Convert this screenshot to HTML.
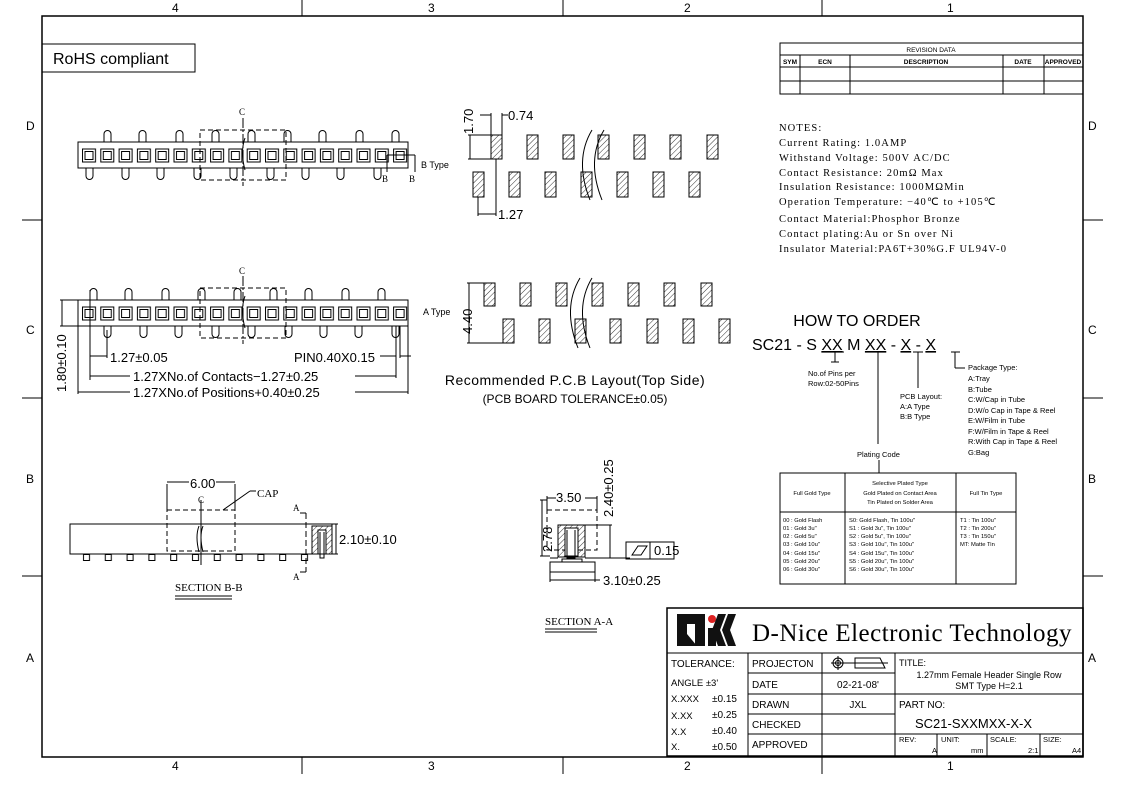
<!DOCTYPE html>
<html><head><meta charset="utf-8"><style>
html,body{margin:0;padding:0;background:#fff;}
svg{display:block;font-family:"Liberation Sans",sans-serif;}
.s{font-family:"Liberation Serif",serif;}
</style></head><body>
<svg width="1123" height="794" viewBox="0 0 1123 794" xmlns="http://www.w3.org/2000/svg">
<defs>
<pattern id="sq" x="81" y="0" width="18.3" height="400" patternUnits="userSpaceOnUse">
<rect x="1.5" y="149" width="13" height="13" fill="none" stroke="#000" stroke-width="1"/>
<rect x="4" y="151.5" width="8" height="8" fill="none" stroke="#000" stroke-width="1"/>
</pattern>
<pattern id="sq2" x="81" y="0" width="18.3" height="400" patternUnits="userSpaceOnUse">
<rect x="1.5" y="307" width="13" height="13" fill="none" stroke="#000" stroke-width="1"/>
<rect x="4" y="309.5" width="8" height="8" fill="none" stroke="#000" stroke-width="1"/>
</pattern>
<pattern id="hat" width="4" height="4" patternUnits="userSpaceOnUse" patternTransform="rotate(45)">
<line x1="0" y1="0" x2="0" y2="4" stroke="#000" stroke-width="0.8"/>
</pattern>
<pattern id="pinb" x="76" y="554" width="21.8" height="20" patternUnits="userSpaceOnUse">
<rect x="7.5" y="0.5" width="6" height="6" fill="none" stroke="#000"/>
</pattern>
</defs>
<g fill="none" stroke="#000" stroke-width="1">
<rect x="42" y="16" width="1041" height="741" stroke-width="1.5"/>
<line x1="302" y1="0" x2="302" y2="16"/><line x1="563" y1="0" x2="563" y2="16"/><line x1="822" y1="0" x2="822" y2="16"/>
<line x1="302" y1="757" x2="302" y2="774"/><line x1="563" y1="757" x2="563" y2="774"/><line x1="822" y1="757" x2="822" y2="774"/>
<line x1="22" y1="220" x2="42" y2="220"/><line x1="22" y1="398" x2="42" y2="398"/><line x1="22" y1="576" x2="42" y2="576"/>
<line x1="1083" y1="220" x2="1103" y2="220"/><line x1="1083" y1="398" x2="1103" y2="398"/><line x1="1083" y1="576" x2="1103" y2="576"/>
<rect x="42" y="44" width="153" height="28"/>
<rect x="780" y="43" width="303" height="51"/>
<line x1="780" y1="55" x2="1083" y2="55"/><line x1="780" y1="67" x2="1083" y2="67"/><line x1="780" y1="81" x2="1083" y2="81"/>
<line x1="800" y1="55" x2="800" y2="94"/><line x1="850" y1="55" x2="850" y2="94"/><line x1="1003" y1="55" x2="1003" y2="94"/><line x1="1044" y1="55" x2="1044" y2="94"/>

<rect x="78" y="142" width="330" height="26"/>
<rect x="78" y="142" width="330" height="26" fill="url(#sq)" stroke="none"/>
<g id="pinsup">
<path d="M104 142v-8a3.5 3.5 0 0 1 7 0v8"/><path d="M139 142v-8a3.5 3.5 0 0 1 7 0v8"/><path d="M176 142v-8a3.5 3.5 0 0 1 7 0v8"/><path d="M212 142v-8a3.5 3.5 0 0 1 7 0v8"/><path d="M248 142v-8a3.5 3.5 0 0 1 7 0v8"/><path d="M284 142v-8a3.5 3.5 0 0 1 7 0v8"/><path d="M319 142v-8a3.5 3.5 0 0 1 7 0v8"/><path d="M356 142v-8a3.5 3.5 0 0 1 7 0v8"/><path d="M392 142v-8a3.5 3.5 0 0 1 7 0v8"/>
</g>
<g id="pinsdn">
<path d="M86 168v8a3.5 3.5 0 0 0 7 0v-8"/><path d="M122 168v8a3.5 3.5 0 0 0 7 0v-8"/><path d="M157 168v8a3.5 3.5 0 0 0 7 0v-8"/><path d="M194 168v8a3.5 3.5 0 0 0 7 0v-8"/><path d="M230 168v8a3.5 3.5 0 0 0 7 0v-8"/><path d="M267 168v8a3.5 3.5 0 0 0 7 0v-8"/><path d="M302 168v8a3.5 3.5 0 0 0 7 0v-8"/><path d="M337 168v8a3.5 3.5 0 0 0 7 0v-8"/><path d="M374 168v8a3.5 3.5 0 0 0 7 0v-8"/>
</g>
<rect x="200" y="130" width="86" height="50" stroke-dasharray="5,3"/>
<line x1="243" y1="118" x2="243" y2="186" stroke-dasharray="10,2,2,2"/>
<path d="M245 138q-5 14 0 32"/>
<line x1="387" y1="155" x2="415" y2="155"/><line x1="387" y1="155" x2="387" y2="172"/><line x1="415" y1="155" x2="415" y2="172"/>

<rect x="78" y="300" width="330" height="26"/>
<rect x="78" y="300" width="330" height="26" fill="url(#sq2)" stroke="none"/>
<use href="#pinsup" transform="translate(-14 158)"/>
<use href="#pinsdn" transform="translate(18 158)"/>
<rect x="200" y="288" width="86" height="50" stroke-dasharray="5,3"/>
<line x1="243" y1="276" x2="243" y2="344" stroke-dasharray="10,2,2,2"/>
<path d="M245 296q-5 14 0 32"/>
<line x1="60" y1="300" x2="78" y2="300"/><line x1="60" y1="326" x2="78" y2="326"/><line x1="62" y1="300" x2="62" y2="326"/>
<line x1="90" y1="290" x2="90" y2="380"/><line x1="107" y1="330" x2="107" y2="358"/><line x1="90" y1="356" x2="107" y2="356"/>
<line x1="396" y1="326" x2="396" y2="378"/><line x1="400" y1="326" x2="400" y2="358"/><line x1="380" y1="356" x2="396" y2="356"/><line x1="400" y1="356" x2="411" y2="356"/>
<line x1="78" y1="326" x2="78" y2="394"/><line x1="408" y1="326" x2="408" y2="394"/>
<line x1="90" y1="376" x2="130" y2="376"/><line x1="355" y1="376" x2="396" y2="376"/>
<line x1="78" y1="392" x2="130" y2="392"/><line x1="355" y1="392" x2="408" y2="392"/>

<g fill="url(#hat)">
<rect x="491" y="135" width="11" height="24"/><rect x="527" y="135" width="11" height="24"/><rect x="563" y="135" width="11" height="24"/><rect x="598" y="135" width="11" height="24"/><rect x="634" y="135" width="11" height="24"/><rect x="670" y="135" width="11" height="24"/><rect x="707" y="135" width="11" height="24"/>
<rect x="473" y="172" width="11" height="25"/><rect x="509" y="172" width="11" height="25"/><rect x="545" y="172" width="11" height="25"/><rect x="581" y="172" width="11" height="25"/><rect x="617" y="172" width="11" height="25"/><rect x="653" y="172" width="11" height="25"/><rect x="689" y="172" width="11" height="25"/>
<rect x="484" y="283" width="11" height="23"/><rect x="520" y="283" width="11" height="23"/><rect x="556" y="283" width="11" height="23"/><rect x="592" y="283" width="11" height="23"/><rect x="628" y="283" width="11" height="23"/><rect x="664" y="283" width="11" height="23"/><rect x="701" y="283" width="11" height="23"/>
<rect x="503" y="319" width="11" height="24"/><rect x="539" y="319" width="11" height="24"/><rect x="575" y="319" width="11" height="24"/><rect x="610" y="319" width="11" height="24"/><rect x="647" y="319" width="11" height="24"/><rect x="683" y="319" width="11" height="24"/><rect x="719" y="319" width="11" height="24"/>
</g>
<path d="M592 130q-18 30 -2 70M604 130q-18 30 -2 70"/>
<path d="M602 278q-18 30 -2 70M590 278q-18 30 -2 70" transform="translate(-10 0)"/>
<line x1="468" y1="135" x2="491" y2="135"/><line x1="468" y1="159" x2="491" y2="159"/><line x1="470" y1="135" x2="470" y2="159"/>
<line x1="491" y1="113" x2="491" y2="135"/><line x1="502" y1="113" x2="502" y2="135"/><line x1="480" y1="115" x2="491" y2="115"/><line x1="502" y1="115" x2="508" y2="115"/>
<line x1="478" y1="197" x2="478" y2="216"/><line x1="496" y1="159" x2="496" y2="216"/><line x1="478" y1="214" x2="496" y2="214"/>
<line x1="467" y1="283" x2="484" y2="283"/><line x1="467" y1="343" x2="503" y2="343"/><line x1="469" y1="283" x2="469" y2="343"/>

<rect x="70" y="524" width="262" height="30"/>
<rect x="76" y="554" width="240" height="8" fill="url(#pinb)" stroke="none"/>
<rect x="167" y="510" width="68" height="41" stroke-dasharray="5,3"/>
<line x1="201" y1="500" x2="201" y2="565"/>
<path d="M199 526q-4 10 0 26M203 526q-4 10 0 26"/>
<line x1="167" y1="484" x2="167" y2="510"/><line x1="235" y1="484" x2="235" y2="510"/>
<line x1="167" y1="482" x2="189" y2="482"/><line x1="216" y1="482" x2="235" y2="482"/>
<line x1="223" y1="510" x2="250" y2="491"/><line x1="250" y1="491" x2="256" y2="491"/>
<line x1="300" y1="513" x2="306" y2="513"/><line x1="306" y1="513" x2="306" y2="572" stroke-dasharray="6,3"/><line x1="300" y1="572" x2="306" y2="572"/>
<rect x="312" y="526" width="20" height="28" fill="url(#hat)"/>
<rect x="312" y="526" width="20" height="28"/>
<rect x="318" y="530" width="8" height="24" fill="#fff"/>
<path d="M320 532v26h4v-26"/>
<line x1="332" y1="524" x2="338" y2="524"/><line x1="332" y1="554" x2="338" y2="554"/><line x1="336" y1="524" x2="336" y2="554"/>
<line x1="175" y1="596" x2="232" y2="596"/><line x1="175" y1="599" x2="232" y2="599"/>

<rect x="547" y="510" width="50" height="40" stroke-dasharray="5,3"/>
<rect x="558" y="525" width="27" height="32" fill="url(#hat)"/>
<rect x="558" y="525" width="27" height="32"/>
<rect x="565" y="528" width="13" height="28" fill="#fff"/>
<path d="M567 530v28h8v-28"/>
<path d="M550 562h12v-3h20v3h13M550 558h8M585 558h10"/>
<rect x="550" y="562" width="45" height="10"/>
<line x1="542" y1="500" x2="542" y2="556"/><line x1="540" y1="500" x2="547" y2="500"/><line x1="540" y1="556" x2="550" y2="556"/>
<line x1="547" y1="496" x2="547" y2="510"/><line x1="597" y1="496" x2="597" y2="510"/><line x1="547" y1="498" x2="556" y2="498"/><line x1="585" y1="498" x2="597" y2="498"/>
<line x1="610" y1="525" x2="610" y2="558"/><line x1="585" y1="525" x2="612" y2="525"/>
<line x1="595" y1="558" x2="630" y2="558"/>
<rect x="626" y="542" width="48" height="17"/><line x1="650" y1="542" x2="650" y2="559"/>
<path d="M632 555l6 -9h9l-6 9z"/>
<line x1="550" y1="572" x2="550" y2="582"/><line x1="550" y1="580" x2="595" y2="580"/><line x1="595" y1="572" x2="595" y2="582"/><line x1="595" y1="580" x2="600" y2="580"/>
<line x1="545" y1="629" x2="597" y2="629"/><line x1="545" y1="632" x2="597" y2="632"/>

<line x1="827" y1="352" x2="844" y2="352"/><line x1="835" y1="352" x2="835" y2="362"/><line x1="831" y1="362" x2="839" y2="362"/>
<line x1="869" y1="352" x2="886" y2="352"/><line x1="878" y1="352" x2="878" y2="444"/>
<line x1="913" y1="352" x2="923" y2="352"/><line x1="918" y1="352" x2="918" y2="388"/>
<line x1="951" y1="352" x2="960" y2="352"/><line x1="955" y1="352" x2="955" y2="368"/><line x1="955" y1="368" x2="965" y2="368"/>
<line x1="879" y1="460" x2="879" y2="473"/>
<rect x="780" y="473" width="236" height="111"/>
<line x1="780" y1="512" x2="1016" y2="512"/><line x1="845" y1="473" x2="845" y2="584"/><line x1="956" y1="473" x2="956" y2="584"/>

<rect x="667" y="608" width="416" height="148" stroke-width="1.5"/>
<line x1="667" y1="653" x2="1083" y2="653"/>
<line x1="748" y1="653" x2="748" y2="756"/><line x1="822" y1="653" x2="822" y2="756"/><line x1="895" y1="653" x2="895" y2="756"/>
<line x1="748" y1="673" x2="895" y2="673"/><line x1="748" y1="694" x2="1083" y2="694"/><line x1="748" y1="714" x2="895" y2="714"/><line x1="748" y1="734" x2="1083" y2="734"/>
<line x1="937" y1="734" x2="937" y2="756"/><line x1="987" y1="734" x2="987" y2="756"/><line x1="1040" y1="734" x2="1040" y2="756"/>
<circle cx="838" cy="663" r="5"/><circle cx="838" cy="663" r="2.5"/><line x1="831" y1="663" x2="888" y2="663"/><line x1="838" y1="656" x2="838" y2="670"/>
<path d="M855 658h25l5 10h-30z"/>
</g>

<path d="M677 614h28v32h-10v-22h-8v22h-10z" fill="#111"/>
<path d="M697 646l-10 -12v12z" fill="#111"/>
<circle cx="712" cy="619" r="4" fill="#d22"/>
<path d="M708 628h8v18h-8z M718 614h8l-6 16 6 16h-8l-6 -16z M728 614h8l-6 16 6 16h-8l-6 -16z" fill="#111"/>

<g fill="#000">
<g font-size="12">
<text x="172" y="12">4</text><text x="428" y="12">3</text><text x="684" y="12">2</text><text x="947" y="12">1</text>
<text x="172" y="770">4</text><text x="428" y="770">3</text><text x="684" y="770">2</text><text x="947" y="770">1</text>
<text x="26" y="130">D</text><text x="26" y="334">C</text><text x="26" y="483">B</text><text x="26" y="662">A</text>
<text x="1088" y="130">D</text><text x="1088" y="334">C</text><text x="1088" y="483">B</text><text x="1088" y="662">A</text>
</g>
<text x="53" y="64" font-size="16">RoHS compliant</text>
<g font-size="6.5" text-anchor="middle" font-weight="bold">
<text x="931" y="52" font-weight="normal">REVISION  DATA</text>
<text x="790" y="64">SYM</text><text x="825" y="64">ECN</text><text x="926" y="64">DESCRIPTION</text><text x="1023" y="64">DATE</text><text x="1063" y="64">APPROVED</text>
</g>
<g class="s" font-size="10.5" letter-spacing="1.1">
<text x="779" y="131">NOTES:</text>
<text x="779" y="146">Current Rating: 1.0AMP</text>
<text x="779" y="161">Withstand Voltage: 500V AC/DC</text>
<text x="779" y="176">Contact Resistance: 20mΩ Max</text>
<text x="779" y="190">Insulation Resistance: 1000MΩMin</text>
<text x="779" y="205">Operation Temperature: −40℃ to +105℃</text>
<text x="779" y="222">Contact Material:Phosphor Bronze</text>
<text x="779" y="237">Contact plating:Au or Sn over Ni</text>
<text x="779" y="252">Insulator Material:PA6T+30%G.F UL94V-0</text>
</g>
<g class="s" font-size="9">
<text x="239" y="115">C</text><text x="239" y="274">C</text>
<text x="382" y="182">B</text><text x="409" y="182">B</text>
<text x="198" y="503">C</text><text x="257" y="497" font-size="11">CAP</text>
<text x="293" y="511">A</text><text x="293" y="580">A</text>
<text x="175" y="591" font-size="11">SECTION B-B</text>
<text x="545" y="625" font-size="11">SECTION A-A</text>
</g>
<g font-size="9"><text x="421" y="168">B Type</text><text x="423" y="315">A Type</text></g>
<g font-size="13">
<text x="110" y="362">1.27±0.05</text>
<text x="294" y="362">PIN0.40X0.15</text>
<text x="133" y="381">1.27XNo.of  Contacts−1.27±0.25</text>
<text x="133" y="397">1.27XNo.of  Positions+0.40±0.25</text>
<text transform="translate(66 392) rotate(-90)">1.80±0.10</text>
<text x="508" y="120">0.74</text>
<text x="498" y="219">1.27</text>
<text transform="translate(473 134) rotate(-90)">1.70</text>
<text transform="translate(472 334) rotate(-90)">4.40</text>
<text x="190" y="488">6.00</text>
<text x="339" y="544">2.10±0.10</text>
<text x="556" y="502">3.50</text>
<text transform="translate(552 552) rotate(-90)">2.78</text>
<text transform="translate(613 517) rotate(-90)">2.40±0.25</text>
<text x="654" y="555">0.15</text>
<text x="603" y="585">3.10±0.25</text>
</g>
<text x="575" y="385" font-size="14" text-anchor="middle" letter-spacing="0.5">Recommended  P.C.B  Layout(Top  Side)</text>
<text x="575" y="403" font-size="12" text-anchor="middle">(PCB  BOARD  TOLERANCE±0.05)</text>

<text x="857" y="326" font-size="16" text-anchor="middle">HOW TO ORDER</text>
<text x="752" y="350" font-size="16">SC21 - S <tspan text-decoration="underline">XX</tspan> M <tspan text-decoration="underline">XX</tspan>  -  <tspan text-decoration="underline">X</tspan>  -  <tspan text-decoration="underline">X</tspan></text>
<g font-size="7.5">
<text x="808" y="376">No.of Pins per</text><text x="808" y="386">Row:02-50Pins</text>
<text x="900" y="399">PCB Layout:</text><text x="900" y="409">A:A Type</text><text x="900" y="419">B:B Type</text>
<text x="857" y="457">Plating Code</text>
<text x="968" y="370">Package Type:</text>
<text x="968" y="381">A:Tray</text><text x="968" y="392">B:Tube</text><text x="968" y="402">C:W/Cap in Tube</text><text x="968" y="413">D:W/o Cap in Tape &amp; Reel</text><text x="968" y="423">E:W/Film in Tube</text><text x="968" y="434">F:W/Film in Tape &amp; Reel</text><text x="968" y="444">R:With Cap in Tape &amp; Reel</text><text x="968" y="455">G:Bag</text>
</g>
<g font-size="5.8">
<text x="812" y="495" text-anchor="middle">Full Gold Type</text>
<text x="900" y="485" text-anchor="middle">Selective Plated Type</text>
<text x="900" y="495" text-anchor="middle">Gold Plated on Contact Area</text>
<text x="900" y="504" text-anchor="middle">Tin Plated on Solder Area</text>
<text x="986" y="495" text-anchor="middle">Full Tin Type</text>
<text x="783" y="522">00 : Gold Flash</text><text x="783" y="530">01 : Gold 3u"</text><text x="783" y="538">02 : Gold 5u"</text><text x="783" y="546">03 : Gold 10u"</text><text x="783" y="555">04 : Gold 15u"</text><text x="783" y="563">05 : Gold 20u"</text><text x="783" y="571">06 : Gold 30u"</text>
<text x="849" y="522">S0: Gold Flash, Tin 100u"</text><text x="849" y="530">S1 : Gold 3u",  Tin 100u"</text><text x="849" y="538">S2 : Gold 5u",  Tin 100u"</text><text x="849" y="546">S3 : Gold 10u",  Tin 100u"</text><text x="849" y="555">S4 : Gold 15u",  Tin 100u"</text><text x="849" y="563">S5 : Gold 20u",  Tin 100u"</text><text x="849" y="571">S6 : Gold 30u",  Tin 100u"</text>
<text x="960" y="522">T1 : Tin 100u"</text><text x="960" y="530">T2 : Tin 200u"</text><text x="960" y="538">T3 : Tin 150u"</text><text x="960" y="546">MT: Matte Tin</text>
</g>

<text x="752" y="641" font-size="25" font-family="Liberation Serif,serif" letter-spacing="0.5">D-Nice Electronic Technology</text>
<g font-size="10">
<text x="671" y="667">TOLERANCE:</text>
<text x="671" y="686" font-size="9.5">ANGLE  ±3'</text>
<text x="671" y="702" font-size="9.5">X.XXX</text><text x="712" y="702">±0.15</text>
<text x="671" y="719" font-size="9.5">X.XX</text><text x="712" y="718">±0.25</text>
<text x="671" y="735" font-size="9.5">X.X</text><text x="712" y="734">±0.40</text>
<text x="671" y="750" font-size="9.5">X.</text><text x="712" y="750">±0.50</text>
<text x="752" y="667">PROJECTON</text><text x="752" y="688">DATE</text><text x="752" y="708">DRAWN</text><text x="752" y="728">CHECKED</text><text x="752" y="748">APPROVED</text>
<text x="858" y="688" text-anchor="middle">02-21-08'</text><text x="858" y="708" text-anchor="middle">JXL</text>
<text x="899" y="666" font-size="9">TITLE:</text>
<text x="989" y="678" font-size="9" text-anchor="middle">1.27mm Female Header Single Row</text>
<text x="989" y="689" font-size="9" text-anchor="middle">SMT Type  H=2.1</text>
<text x="899" y="708">PART  NO:</text>
<text x="915" y="728" font-size="13">SC21-SXXMXX-X-X</text>
<g font-size="7.5"><text x="899" y="742">REV:</text><text x="932" y="753">A</text><text x="941" y="742">UNIT:</text><text x="971" y="753">mm</text><text x="990" y="742">SCALE:</text><text x="1028" y="753">2:1</text><text x="1043" y="742">SIZE:</text><text x="1072" y="753">A4</text></g>
</g>
</g>
</svg>
</body></html>
